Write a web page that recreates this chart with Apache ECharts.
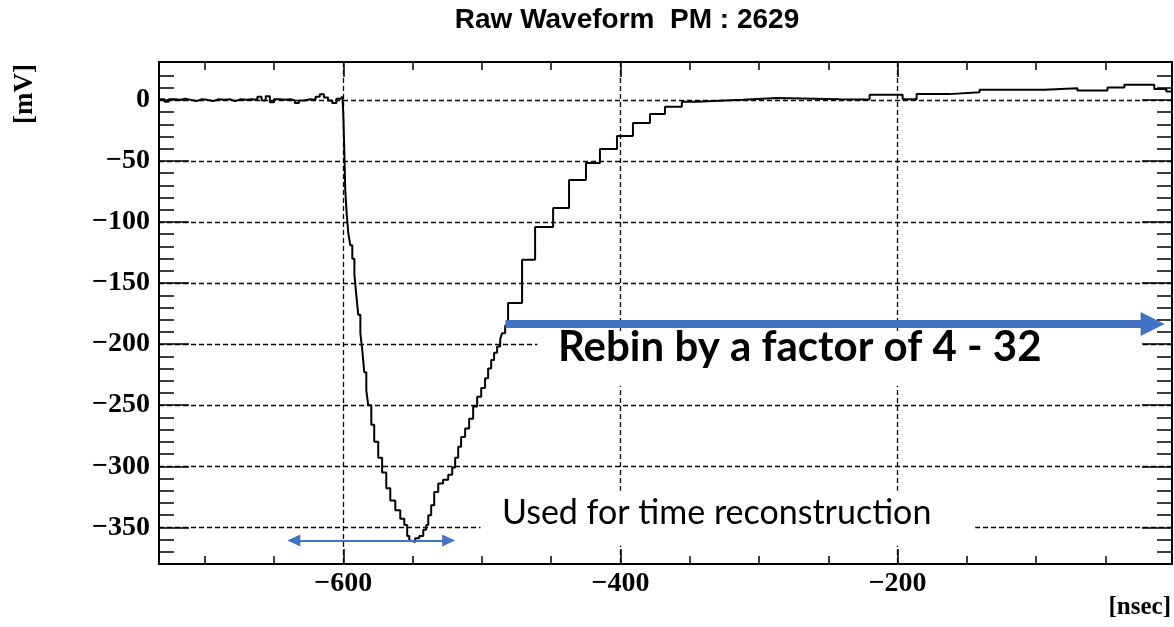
<!DOCTYPE html>
<html><head><meta charset="utf-8">
<script src="https://cdn.jsdelivr.net/npm/echarts@6/dist/echarts.min.js"></script>
<style>html,body{margin:0;padding:0;background:#fff}#c{width:1174px;height:627px}</style>
</head><body><div id="c"></div>
<script>
const titleText = 'Raw Waveform  PM : 2629';
const xUnit = '[nsec]';
const yUnit = '[mV]';
const xRange = [-733, -2];
const yRange = [-380, 31];
const xMajorTicks = [-600, -400, -200];
const xMinorTicks = [-700, -650, -550, -500, -450, -350, -300, -250, -150, -100, -50];
const yMajorTicks = [-350, -300, -250, -200, -150, -100, -50, 0];
const yMinorTicks = [-370, -360, -340, -330, -320, -310, -290, -280, -270, -260, -240, -230, -220, -210,
  -190, -180, -170, -160, -140, -130, -120, -110, -90, -80, -70, -60, -40, -30, -20, -10, 10, 20];

// baseline before the pulse (ns, mV)
const baselineTimes = [-733, -729, -726, -722, -718, -714, -710, -706, -702, -698, -694, -690, -686, -682, -678, -674,
  -670, -666, -662, -659, -656, -653, -650, -646, -642, -638, -635, -632, -628, -624, -620, -617, -614, -611, -608,
  -605, -602, -600.5];
const baselineValues = [0.5, -1.5, 0.5, 0, 1, 0, -1, 0.5, 0, -1, 0.5, 0, 0.5, -1, 0.5, 0,
  0.5, 0, 2.5, -0.5, 3, -2, 0.5, 0, 0.5, -0.5, -2.5, -0.5, 0.5, 0, 2.5, 4.5, 2, -0.5, -2.5,
  1, 2.5, -1];
// raw pulse region, used for time reconstruction
const pulseTimes = [-600, -599.3, -598.6, -597.5, -596.4, -595, -593.5, -592, -590.6, -589.2, -587.7, -586.3, -584.9,
  -583.4, -582, -579.8, -577.7, -574.8, -572, -569, -566.1, -562.5, -558.9, -556, -553.9, -552.4, -550.3, -548.1,
  -545.2, -542.3, -540.2, -538.7, -536.6, -534.4, -531.5, -528, -524.3, -521.4, -519.3, -517.1, -515, -512.1, -509.2,
  -506.3, -503.4, -500.5, -497.7, -495.5, -493.3, -491.2, -489, -486.8, -485.4, -483.2];
const pulseValues = [-12, -41, -74, -94, -109, -119, -130, -143, -160, -176, -191, -205, -223,
  -238, -250, -266, -280, -293, -305, -318, -328, -336, -343, -348, -357, -361, -362, -359,
  -357, -352, -348, -340, -332, -321, -314, -311, -307, -301, -293, -284, -276, -269, -261,
  -251, -243, -236, -228, -220, -213, -207, -202, -196, -191, -185];
// rebinned tail (bin left edges, mV)
const rebinEdges = [-481.1, -471, -461.6, -448.6, -437.1, -424.9, -414.8, -402.5, -391, -378.7, -367.9, -355.7,
  -344.9, -311.7, -287.2, -241.8, -220.2, -196.4, -186.3, -162.5, -140.9, -94.1, -70.3, -48.6, -36.4, -14.8, -6.1, -2];
const rebinValues = [-166.4, -131, -104, -88.5, -65.6, -51.6, -40.2, -29.5, -18.9, -11.5, -5.7, -1.6,
  0, 1.6, 0.5, 0.3, 4.1, 0.5, 4.7, 6.3, 8.2, 9.6, 7.6, 10.1, 12.3, 8.8, 6.8, 6.8];

const rebinNote = 'Rebin by a factor of 4 - 32';
const timeNote = 'Used for time reconstruction';

const waveData = [];
baselineTimes.forEach((t, i) => waveData.push([t, baselineValues[i]]));
pulseTimes.forEach((t, i) => waveData.push([t, pulseValues[i]]));
rebinEdges.forEach((t, i) => waveData.push([t, rebinValues[i]]));

const blue = '#4472C4';
const serifBold = {fontFamily: '"Liberation Serif", "Times New Roman", serif', fontWeight: 'bold', fontSize: 28, color: '#000'};
const minus = v => (v < 0 ? '\u2212' + Math.abs(v) : String(v));
const tickLine = {color: '#000', width: 1.5};
const gridLine = {color: '#000', width: 1.3, type: [5, 3]};

function xAx(pos, ticks, len, labels, split) {
  return {type: 'value', min: xRange[0], max: xRange[1], position: pos,
    axisLine: {show: false, onZero: false},
    axisTick: {show: true, inside: true, length: len, customValues: ticks, lineStyle: tickLine},
    axisLabel: labels ? Object.assign({show: true, customValues: ticks, formatter: minus, margin: 6}, serifBold) : {show: false},
    splitLine: split ? {show: true, lineStyle: gridLine} : {show: false},
    minorTick: {show: false}, minorSplitLine: {show: false}};
}
function yAx(pos, ticks, len, labels, split) {
  return {type: 'value', min: yRange[0], max: yRange[1], position: pos,
    axisLine: {show: false, onZero: false},
    axisTick: {show: true, inside: true, length: len, customValues: ticks, lineStyle: tickLine},
    axisLabel: labels ? Object.assign({show: true, customValues: ticks, formatter: minus, margin: 9}, serifBold) : {show: false},
    splitLine: split ? {show: true, lineStyle: gridLine} : {show: false},
    minorTick: {show: false}, minorSplitLine: {show: false}};
}

const chart = echarts.init(document.getElementById('c'), null, {renderer: 'canvas'});
chart.setOption({
  animation: false,
  backgroundColor: '#fff',
  grid: {left: 159, right: 2, top: 62, bottom: 63, show: true, borderColor: '#000', borderWidth: 2, backgroundColor: '#fff'},
  xAxis: [
    xAx('bottom', xMajorTicks, 15, true, true),
    xAx('bottom', xMinorTicks, 8, false, false),
    xAx('top', xMajorTicks, 15, false, false),
    xAx('top', xMinorTicks, 8, false, false)
  ],
  yAxis: [
    yAx('left', yMajorTicks, 30, true, true),
    yAx('left', yMinorTicks, 15, false, false),
    yAx('right', yMajorTicks, 30, false, false),
    yAx('right', yMinorTicks, 15, false, false)
  ],
  series: [{
    type: 'line', step: 'end', xAxisIndex: 0, yAxisIndex: 0,
    data: waveData, showSymbol: false, symbol: 'none',
    lineStyle: {color: '#000', width: 2}, z: 3,
    markArea: {
      silent: true,
      itemStyle: {color: '#fff', opacity: 1, borderWidth: 0},
      label: {show: false},
      data: [
        [{coord: [-460, -190]}, {coord: [-24, -234]}],
        [{coord: [-501, -320]}, {coord: [-144, -365]}]
      ]
    },
    markLine: {
      silent: true, animation: false,
      label: {show: false},
      lineStyle: {color: blue, type: 'solid'},
      itemStyle: {color: blue},
      emphasis: {disabled: true},
      data: [
        [{coord: [-483, -183.6], symbol: 'none', lineStyle: {width: 8, color: blue, type: 'solid'}},
         {coord: [-16, -183.6], symbol: 'triangle', symbolSize: [24, 24]}],
        [{coord: [-635.7, -360.7], symbol: 'triangle', symbolSize: [12, 13], lineStyle: {width: 2, color: blue, type: 'solid'}},
         {coord: [-524, -360.7], symbol: 'triangle', symbolSize: [12, 13]}]
      ]
    }
  }],
  graphic: [
    {type: 'text', x: 627, y: 20, z: 10, style: {text: titleText, fill: '#000', align: 'center', verticalAlign: 'middle',
      font: 'bold 28px "Liberation Sans", Arial, sans-serif'}},
    {type: 'text', x: 25, y: 94, rotation: Math.PI / 2, z: 10, style: {text: yUnit, fill: '#000', align: 'center', verticalAlign: 'middle',
      font: 'bold 27px "Liberation Serif", serif'}},
    {type: 'text', x: 1171, y: 608, z: 10, style: {text: xUnit, fill: '#000', align: 'right', verticalAlign: 'middle',
      font: 'bold 25px "Liberation Serif", serif'}},
    {type: 'text', x: 558, y: 347, z: 10, style: {text: rebinNote, fill: '#000', align: 'left', verticalAlign: 'middle',
      font: 'bold 42px Lato, "Open Sans", sans-serif'}},
    {type: 'text', x: 502, y: 513, z: 10, style: {text: timeNote, fill: '#000', align: 'left', verticalAlign: 'middle',
      font: '34px Lato, "Open Sans", sans-serif'}}
  ]
});
</script></body></html>
